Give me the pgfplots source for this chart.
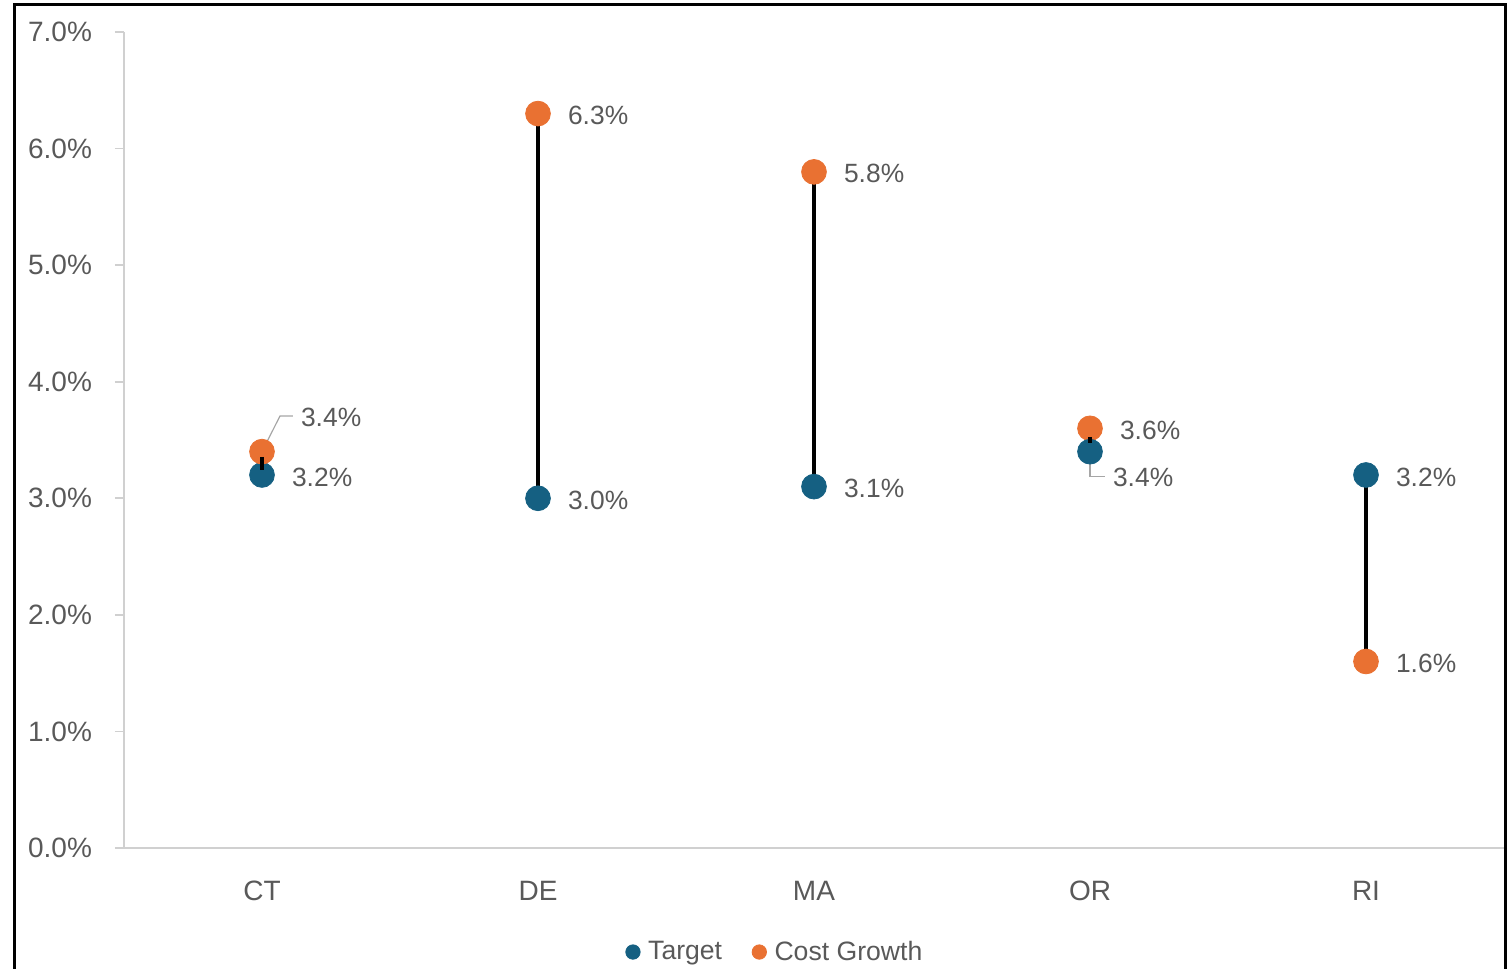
\documentclass[border=0pt]{standalone}
\usepackage{pgfplots}
\pgfplotsset{compat=1.18}
\usepackage{fontspec}
\setmainfont{Liberation Sans}
\definecolor{tblue}{HTML}{156082}
\definecolor{torange}{HTML}{E97132}
\definecolor{txtgray}{HTML}{595959}
\definecolor{axgray}{HTML}{D0D0D0}
\begin{document}
\begin{tikzpicture}[x=0.5pt,y=0.5pt]
\useasboundingbox (0,0) rectangle (1511,969);
\draw[line width=1.5pt,black] (14,-2) -- (14,964) -- (1505,964) -- (1505,-2);
\begin{axis}[
  at={(62pt,60.5pt)}, anchor=south west,
  scale only axis, width=690pt, height=408pt,
  xmin=-0.5, xmax=4.5, ymin=0, ymax=7,
  clip=false,
  axis x line=bottom, axis y line=left,
  axis line style={draw=axgray, line width=0.8pt, -},
  xtick={0,1,2,3,4}, xticklabels={CT,DE,MA,OR,RI},
  ytick={0,1,2,3,4,5,6,7},
  /pgf/number format/assume math mode=true,
  yticklabel={\pgfmathprintnumber[fixed,fixed zerofill,precision=1]{\tick}\%},
  tick align=outside, major tick length=4.5pt,
  y tick style={draw=axgray, line width=0.8pt},
  x tick style={draw=none},
  tick label style={font=\fontsize{14}{16}\selectfont, text=txtgray},
  yticklabel style={xshift=-8pt},
  xticklabel style={yshift=-8.5pt},
  legend style={at={(0.4725,-0.1275)}, anchor=center, draw=none, fill=none,
    legend columns=2, font=\fontsize{13.3}{15}\selectfont, text=txtgray,
    /tikz/every odd column/.append style={column sep=2pt},
    /tikz/every even column/.append style={column sep=13pt}},
  legend image code/.code={\draw[#1,mark size=3.6pt] plot coordinates {(0pt,0pt)};},
  nodes near coords style={font=\fontsize{13.2}{15}\selectfont, text=txtgray},
]
% connecting lines (beneath markers)
\addplot[black, line width=2.3pt, forget plot] coordinates {(1,3.0) (1,6.3)};
\addplot[black, line width=2.3pt, forget plot] coordinates {(2,3.1) (2,5.8)};
\addplot[black, line width=2.3pt, forget plot] coordinates {(4,3.2) (4,1.6)};
% leader lines
\addplot[gray!70, line width=0.6pt, forget plot] coordinates {(0,3.4) (0.065,3.705) (0.112,3.705)};
\addplot[gray!70, line width=0.6pt, forget plot] coordinates {(3,3.4) (3,3.186) (3.054,3.186)};
% markers
\addplot[only marks, mark=*, mark size=6.2pt, draw=tblue, fill=tblue,
  nodes near coords={\pgfmathprintnumber[fixed,fixed zerofill,precision=1]{\pgfplotspointmeta}\%},
  nodes near coords style={anchor=west, xshift=11.5pt, yshift=-1pt}]
  coordinates {(0,3.2) (1,3.0) (2,3.1) (4,3.2)};
\addlegendentry{Target}
\addplot[only marks, mark=*, mark size=6.2pt, draw=torange, fill=torange,
  nodes near coords={\pgfmathprintnumber[fixed,fixed zerofill,precision=1]{\pgfplotspointmeta}\%},
  nodes near coords style={anchor=west, xshift=11.5pt, yshift=-1pt}]
  coordinates {(1,6.3) (2,5.8) (3,3.6) (4,1.6)};
\addlegendentry{Cost Growth}
% special labels
\addplot[only marks, mark=*, mark size=6.2pt, draw=tblue, fill=tblue, forget plot,
  nodes near coords={\pgfmathprintnumber[fixed,fixed zerofill,precision=1]{\pgfplotspointmeta}\%},
  nodes near coords style={anchor=west, xshift=8pt, yshift=-13pt}]
  coordinates {(3,3.4)};
\addplot[only marks, mark=*, mark size=6.2pt, draw=torange, fill=torange, forget plot,
  nodes near coords={\pgfmathprintnumber[fixed,fixed zerofill,precision=1]{\pgfplotspointmeta}\%},
  nodes near coords style={anchor=west, xshift=16pt, yshift=17pt}]
  coordinates {(0,3.4)};
% short connecting segments visible over overlapping markers
\addplot[only marks, mark=|, mark size=3.3pt, mark options={draw=black, line width=2.3pt}, forget plot]
  coordinates {(0,3.2985)};
\addplot[only marks, mark=|, mark size=1.6pt, mark options={draw=black, line width=2.3pt}, forget plot]
  coordinates {(3,3.5)};
\end{axis}
\end{tikzpicture}
\end{document}
